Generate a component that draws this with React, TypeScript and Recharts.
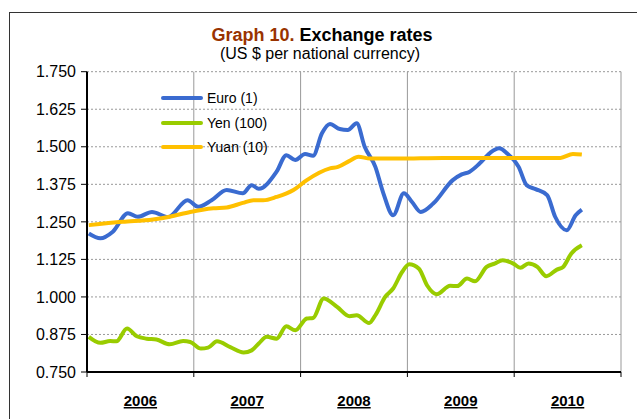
import { LineChart, Line, XAxis, YAxis, CartesianGrid, Legend, ReferenceLine } from 'recharts'

// months since Jan 2006
const euroMonths = [0.2, 1.5, 2.9, 4.6, 5.7, 7.3, 9.1, 11.3, 12.5, 14.0, 15.7, 17.5, 18.5, 19.3, 21.3, 22.4, 23.4, 24.5, 25.4, 26.4, 27.3, 28.4, 29.3, 30.3, 31.2, 32.4, 33.3, 34.4, 35.6, 36.5, 37.5, 38.9, 41.1, 42.1, 43.0, 44.1, 45.3, 46.3, 47.2, 48.5, 49.4, 50.4, 51.7, 52.6, 53.9, 54.9, 55.6]
const euroRates = [1.211, 1.195, 1.217, 1.279, 1.267, 1.283, 1.266, 1.322, 1.3, 1.322, 1.356, 1.345, 1.372, 1.36, 1.417, 1.472, 1.456, 1.476, 1.47, 1.545, 1.576, 1.559, 1.556, 1.578, 1.5, 1.433, 1.345, 1.272, 1.345, 1.317, 1.283, 1.311, 1.389, 1.408, 1.417, 1.444, 1.48, 1.495, 1.478, 1.433, 1.372, 1.359, 1.339, 1.267, 1.222, 1.272, 1.291]

const yenMonths = [0.2, 1.5, 2.6, 3.3, 4.5, 5.6, 6.7, 7.8, 9.3, 10.8, 11.6, 12.8, 13.6, 14.6, 16.1, 17.6, 18.5, 19.3, 20.2, 21.3, 22.4, 23.4, 24.7, 25.4, 26.6, 28.1, 29.5, 30.3, 31.7, 32.4, 33.5, 34.4, 35.4, 36.2, 37.3, 38.2, 39.3, 40.8, 41.6, 42.7, 43.6, 44.9, 45.8, 46.7, 47.9, 48.7, 49.6, 50.6, 51.6, 52.8, 53.5, 54.4, 55.6]
const yenRates = [0.867, 0.847, 0.853, 0.852, 0.895, 0.869, 0.861, 0.858, 0.842, 0.853, 0.85, 0.828, 0.831, 0.852, 0.833, 0.815, 0.822, 0.845, 0.867, 0.861, 0.902, 0.889, 0.928, 0.93, 0.995, 0.967, 0.936, 0.939, 0.913, 0.939, 1.0, 1.028, 1.083, 1.109, 1.094, 1.039, 1.009, 1.037, 1.036, 1.061, 1.052, 1.1, 1.111, 1.122, 1.111, 1.097, 1.111, 1.1, 1.069, 1.091, 1.1, 1.144, 1.172]

const yuanMonths = [0.2, 4.0, 7.4, 9.3, 11.6, 14.2, 15.7, 17.5, 18.7, 19.8, 21.3, 23.2, 24.7, 27.3, 28.2, 29.5, 30.5, 31.8, 35, 40, 45, 50, 53.2, 54.6, 55.6]
const yuanRates = [1.239, 1.25, 1.258, 1.267, 1.283, 1.295, 1.298, 1.313, 1.322, 1.322, 1.333, 1.356, 1.389, 1.428, 1.433, 1.453, 1.467, 1.461, 1.461, 1.463, 1.463, 1.463, 1.463, 1.476, 1.474]

const yearTicks = [0, 12, 24, 36, 48, 60]
const yearMids = [6, 18, 30, 42, 54]
const yearLabels = ['2006', '2007', '2008', '2009', '2010']
const rateTicks = [0.75, 0.875, 1.0, 1.125, 1.25, 1.375, 1.5, 1.625, 1.75]

const series = [
  { name: 'Euro (1)', color: '#3A6BD0', months: euroMonths, rates: euroRates },
  { name: 'Yen (100)', color: '#99CC00', months: yenMonths, rates: yenRates },
  { name: 'Yuan (10)', color: '#FFC000', months: yuanMonths, rates: yuanRates },
]

const font = 'Arial, "Liberation Sans", sans-serif'

// boundary ticks get a short tick mark, mid-year ticks get the year label
function XTick({ x, y, payload }: { x?: number; y?: number; payload?: { value: number } }) {
  const v = payload?.value ?? -1
  const y0 = y ?? 0
  if (yearTicks.includes(v)) {
    return <line x1={x} x2={x} y1={y0} y2={y0 + 5} stroke="#000" strokeWidth={1} />
  }
  return (
    <text
      x={x}
      y={y0 + 34}
      textAnchor="middle"
      fontFamily={font}
      fontSize={15}
      fontWeight="bold"
      textDecoration="underline"
      fill="#000"
    >
      {yearLabels[yearMids.indexOf(v)]}
    </text>
  )
}

function LegendBox() {
  return (
    <div style={{ fontFamily: font, fontSize: 14, color: '#000' }}>
      {series.map((s) => (
        <div key={s.name} style={{ display: 'flex', alignItems: 'center', height: 24.5 }}>
          <span style={{ width: 42, height: 4, borderRadius: 2, background: s.color, marginRight: 4 }} />
          <span>{s.name}</span>
        </div>
      ))}
    </div>
  )
}

export default function App() {
  return (
    <div style={{ position: 'absolute', left: 0, top: 0, width: 639, height: 419, background: '#fff', fontFamily: font }}>
      <div style={{ position: 'absolute', left: 9, top: 12, width: 627, height: 420, borderLeft: '1px solid #333', borderTop: '1px solid #333' }} />
      <div style={{ position: 'absolute', left: 0, top: 25, width: 644, textAlign: 'center', fontSize: 18, fontWeight: 'bold', lineHeight: '20px' }}>
        <span style={{ color: '#993300' }}>Graph 10.</span> Exchange rates
      </div>
      <div style={{ position: 'absolute', left: 0, top: 45, width: 640, textAlign: 'center', fontSize: 16, lineHeight: '18px' }}>
        (US $ per national currency)
      </div>
      <div style={{ position: 'absolute', left: 0, top: 0 }}>
        <LineChart width={639} height={419} margin={{ top: 71.7, right: 18, bottom: 0, left: 0 }}>
          <CartesianGrid vertical={false} stroke="#999" strokeDasharray="2 2" />
          {yearTicks.map((t) => (
            <ReferenceLine key={t} x={t} stroke="#999" strokeWidth={1} />
          ))}
          <XAxis
            type="number"
            dataKey="m"
            domain={[0, 60]}
            ticks={[...yearTicks, ...yearMids].sort((a, b) => a - b)}
            tick={<XTick />}
            interval={0}
            height={47}
            tickSize={0}
            tickMargin={0}
            tickLine={false}
            axisLine={{ stroke: '#000', strokeWidth: 2 }}
            allowDataOverflow
          />
          <YAxis
            type="number"
            domain={[0.75, 1.75]}
            ticks={rateTicks}
            width={87}
            tickFormatter={(v: number) => v.toFixed(3)}
            tick={{ fontFamily: font, fontSize: 16, fill: '#000' }}
            tickSize={6}
            tickMargin={5}
            axisLine={{ stroke: '#000', strokeWidth: 2 }}
            tickLine={{ stroke: '#000' }}
            interval={0}
            allowDataOverflow
          />
          <Legend
            layout="horizontal"
            verticalAlign="middle"
            align="center"
            content={<LegendBox />}
            wrapperStyle={{ position: 'absolute', left: 161, top: 86, width: 140, height: 74 }}
          />
          {series.map((s) => (
            <Line
              key={s.name}
              name={s.name}
              data={s.months.map((m, i) => ({ m, v: s.rates[i] }))}
              dataKey="v"
              type="monotone"
              stroke={s.color}
              strokeWidth={4}
              dot={false}
              activeDot={false}
              isAnimationActive={false}
            />
          ))}
        </LineChart>
      </div>
    </div>
  )
}
